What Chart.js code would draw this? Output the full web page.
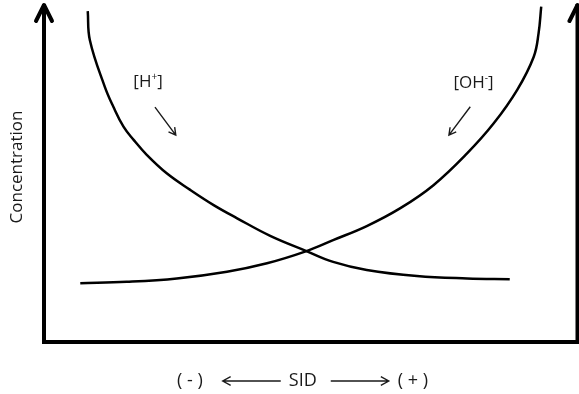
<!DOCTYPE html>
<html>
<head>
<meta charset="utf-8">
<title>SID vs concentration</title>
<script src="https://cdn.jsdelivr.net/npm/chart.js@4.4.0/dist/chart.umd.min.js"></script>
<style>
    html, body { margin: 0; padding: 0; background: #ffffff; }
    #wrap { width: 579px; height: 394px; }
</style>
</head>
<body>
<div id="wrap"><canvas id="sidChart" width="579" height="394"></canvas></div>
<script>
// ================================
// Data (arbitrary units 0-100)
// ================================
const sidH = [8.2, 8.6, 11.4, 13.0, 14.9, 16.8, 19.3, 23.0, 27.4, 31.8, 36.2, 42.4, 49.2, 54.2, 60.5, 69.9, 79.3, 87.3];
const concH = [97.9, 89.3, 75.5, 69.6, 63.7, 59.8, 55.3, 49.9, 45.0, 40.5, 36.6, 31.4, 26.9, 23.7, 21.3, 19.5, 18.8, 18.6];

const sidOH = [6.8, 15.5, 24.9, 34.3, 41.8, 49.2, 54.3, 60.5, 66.8, 73.0, 79.3, 84.3, 88.7, 91.8, 92.7, 93.2];
const concOH = [17.4, 17.8, 18.8, 20.8, 23.3, 26.9, 30.2, 34.3, 39.6, 46.4, 55.8, 64.7, 74.6, 84.4, 91.3, 99.2];

const seriesLabels = ["[H+]", "[OH-]"];
const yAxisTitle = "Concentration";

function toPoints(xs, ys) {
    return xs.map((x, i) => ({ x: x, y: ys[i] }));
}

// ================================
// Helpers
// ================================
function arrowLine(ctx, x1, y1, x2, y2, head) {
    const ang = Math.atan2(y2 - y1, x2 - x1);
    ctx.beginPath();
    ctx.moveTo(x1, y1);
    ctx.lineTo(x2, y2);
    ctx.moveTo(x2 - head * Math.cos(ang - 0.5), y2 - head * Math.sin(ang - 0.5));
    ctx.lineTo(x2, y2);
    ctx.lineTo(x2 - head * Math.cos(ang + 0.5), y2 - head * Math.sin(ang + 0.5));
    ctx.stroke();
}

function supLabel(ctx, base, sup, close, cx, cy) {
    ctx.font = '17px "Open Sans"';
    const w1 = ctx.measureText(base).width;
    const w3 = ctx.measureText(close).width;
    ctx.font = '10px "Open Sans"';
    const w2 = ctx.measureText(sup).width;
    let x = cx - (w1 + w2 + w3) / 2;
    ctx.textAlign = "left";
    ctx.textBaseline = "middle";
    ctx.font = '17px "Open Sans"';
    ctx.fillText(base, x, cy);
    x += w1;
    ctx.font = '10px "Open Sans"';
    ctx.fillText(sup, x, cy - 5);
    x += w2;
    ctx.font = '17px "Open Sans"';
    ctx.fillText(close, x, cy);
}

// ================================
// Axes frame with arrows
// ================================
const sketchAxes = {
    id: "sketchAxes",
    afterDraw(chart) {
        const { ctx, chartArea: a } = chart;
        ctx.save();
        ctx.strokeStyle = "#000";
        ctx.lineWidth = 4;
        ctx.lineJoin = "miter";
        ctx.lineCap = "square";
        ctx.beginPath();
        ctx.moveTo(a.left, a.top + 2);
        ctx.lineTo(a.left, a.bottom);
        ctx.lineTo(a.right, a.bottom);
        ctx.lineTo(a.right, a.top + 2);
        ctx.stroke();

        ctx.lineCap = "round";
        ctx.lineJoin = "round";
        [a.left, a.right].forEach(x => {
            ctx.beginPath();
            ctx.moveTo(x - 8, a.top + 17);
            ctx.lineTo(x, a.top + 1);
            ctx.lineTo(x + 8, a.top + 17);
            ctx.stroke();
        });
        ctx.restore();
    }
};

// ================================
// Texts and annotation arrows
// ================================
const sketchText = {
    id: "sketchText",
    afterDraw(chart) {
        const { ctx, chartArea: a } = chart;
        const sx = chart.scales.x, sy = chart.scales.y;
        ctx.save();
        ctx.fillStyle = "#1a1a1a";
        ctx.strokeStyle = "#1a1a1a";

        // y title
        ctx.save();
        ctx.translate(17, (a.top + a.bottom) / 2 - 6);
        ctx.rotate(-Math.PI / 2);
        ctx.font = '17px "Open Sans"';
        ctx.textAlign = "center";
        ctx.textBaseline = "middle";
        ctx.fillText(yAxisTitle, 0, 0);
        ctx.restore();

        // x label: ( - ) <--- SID ---> ( + )
        const c = (a.left + a.right) / 2 - 8;
        const ty = a.bottom + 39;
        ctx.font = '18px "Open Sans"';
        ctx.textBaseline = "middle";
        ctx.textAlign = "center";
        ctx.fillText("SID", c, ty);
        ctx.textAlign = "right";
        ctx.fillText("( - )", c - 100, ty);
        ctx.textAlign = "left";
        ctx.fillText("( + )", c + 95, ty);
        ctx.lineWidth = 1.4;
        arrowLine(ctx, c - 22, ty, c - 80, ty, 9);
        arrowLine(ctx, c + 28, ty, c + 86, ty, 9);

        // series labels
        supLabel(ctx, "[H", "+", "]", sx.getPixelForValue(19.5), sy.getPixelForValue(77));
        supLabel(ctx, "[OH", "-", "]", sx.getPixelForValue(80.5), sy.getPixelForValue(76.6));

        ctx.lineWidth = 1.4;
        arrowLine(ctx, sx.getPixelForValue(20.8), sy.getPixelForValue(69.5),
                       sx.getPixelForValue(24.7), sy.getPixelForValue(61.2), 8);
        arrowLine(ctx, sx.getPixelForValue(79.9), sy.getPixelForValue(69.6),
                       sx.getPixelForValue(75.9), sy.getPixelForValue(61.2), 8);
        ctx.restore();
    }
};

// ================================
// Chart
// ================================
new Chart(document.getElementById("sidChart"), {
    type: "line",
    data: {
        datasets: [
            {
                label: seriesLabels[0],
                data: toPoints(sidH, concH),
                borderColor: "#000",
                borderWidth: 2.5,
                pointRadius: 0,
                tension: 0.4,
                fill: false
            },
            {
                label: seriesLabels[1],
                data: toPoints(sidOH, concOH),
                borderColor: "#000",
                borderWidth: 2.5,
                pointRadius: 0,
                tension: 0.4,
                fill: false
            }
        ]
    },
    options: {
        responsive: false,
        animation: false,
        devicePixelRatio: 1,
        layout: { padding: { left: 44, right: 1.5, top: 4, bottom: 52 } },
        plugins: {
            legend: { display: false },
            tooltip: { enabled: false }
        },
        scales: {
            x: { type: "linear", min: 0, max: 100, display: false },
            y: { type: "linear", min: 0, max: 100, display: false }
        }
    },
    plugins: [sketchAxes, sketchText]
});
</script>
</body>
</html>
